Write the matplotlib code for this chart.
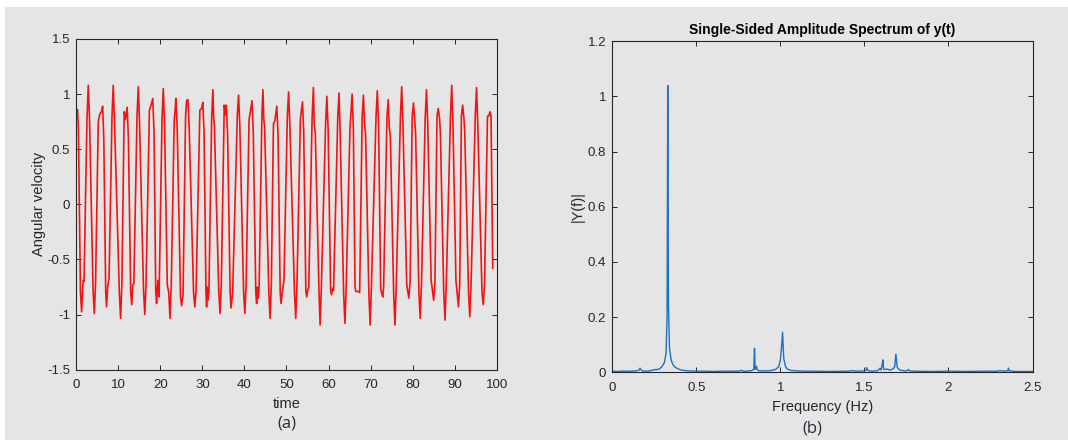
"""Angular velocity time series (a) and its single-sided amplitude spectrum (b)."""
import matplotlib

matplotlib.use("Agg")
import matplotlib.pyplot as plt  # noqa: E402
from matplotlib.patches import Rectangle  # noqa: E402

BG = "#e5e5e5"
AX_COLOR = "#262626"
RED = "#f21414"
BLUE = "#1f6fc4"

# (a) angular velocity, vertices
time_pts = [
    0.00, 0.30, 0.50, 1.00, 1.28, 1.50, 1.67, 1.85, 2.55, 2.86, 3.15,
    4.00, 4.30, 4.60, 5.24, 5.60, 6.00, 6.27, 6.55, 7.00, 7.20, 7.50, 7.80,
    8.50, 8.80, 9.10, 10.25, 10.55, 10.85, 11.40, 11.70, 12.10, 12.40,
    12.95, 13.20, 13.45, 13.70, 14.45, 14.75, 15.05, 16.00, 16.30, 16.60,
    17.40, 17.80, 18.20, 18.50, 18.90, 19.10, 19.30, 19.50, 19.70,
    20.40, 20.70, 21.00, 21.65, 22.00, 22.30, 22.60, 23.30, 23.50, 23.70, 24.00,
    24.80, 25.05, 25.40, 26.00, 26.25, 26.55, 26.85, 27.90, 28.20, 28.50,
    29.40, 29.80, 30.10, 30.40, 30.85, 31.00, 31.15, 31.30, 31.55,
    32.20, 32.50, 32.70, 32.85, 33.90, 34.20, 34.50, 35.20, 35.45, 35.70, 36.00,
    36.60, 36.80, 37.00, 37.20, 38.30, 38.60, 38.90, 39.80, 40.10, 40.40,
    41.10, 41.45, 41.80, 42.10, 42.70, 42.90, 43.10, 43.30, 43.50,
    44.15, 44.40, 44.60, 44.80, 45.80, 46.10, 46.40, 46.90, 47.25, 47.70, 48.00,
    48.50, 48.70, 49.00, 49.40, 50.20, 50.50, 50.80, 51.90, 52.20, 52.50,
    53.30, 53.80, 54.10, 54.60, 54.80, 55.05, 55.30, 56.10, 56.40, 56.60, 56.85,
    57.75, 58.00, 58.30, 59.30, 59.60, 59.90, 60.50, 60.70, 61.00, 61.20,
    62.20, 62.50, 62.75, 63.60, 63.90, 64.20, 65.10, 65.60, 65.90,
    66.30, 66.50, 67.00, 67.40, 68.00, 68.30, 68.55, 68.80, 69.60, 69.90, 70.20,
    71.30, 71.60, 71.90, 72.40, 72.60, 72.90, 73.10, 73.90, 74.20, 74.45, 74.70,
    75.50, 75.80, 76.10, 77.10, 77.40, 77.70, 78.60, 79.10, 79.40,
    79.90, 80.20, 80.50, 80.70, 81.50, 81.80, 82.10, 83.00, 83.30, 83.60,
    84.40, 85.00, 85.30, 85.80, 86.10, 86.40, 86.60, 87.40, 87.70, 88.00,
    89.00, 89.30, 89.60, 90.30, 90.90, 91.20, 91.60, 91.90, 92.20, 92.40,
    93.30, 93.60, 93.90, 94.90, 95.20, 95.50, 96.50, 96.80, 97.10,
    97.80, 98.10, 98.40, 98.65, 99.05,
]
omega_pts = [
    0.84, 0.86, 0.70, -0.80, -0.975, -0.78, -0.69, -0.70, 0.78, 1.08, 0.78,
    -0.78, -0.99, -0.70, 0.75, 0.82, 0.84, 0.89, 0.60, -0.78, -0.93, -0.74, -0.67,
    0.80, 1.08, 0.75, -0.80, -1.035, -0.72, 0.84, 0.77, 0.88, 0.60,
    -0.80, -0.91, -0.73, -0.72, 0.80, 1.067, 0.74, -0.78, -1.00, -0.72,
    0.855, 0.90, 0.96, 0.65, -0.78, -0.90, -0.75, -0.69, -0.84,
    0.78, 1.05, 0.72, -0.73, -0.80, -1.035, -0.72, 0.765, 0.85, 0.96, 0.70,
    -0.84, -0.92, -0.82, 0.80, 0.94, 0.95, 0.70, -0.80, -0.93, -0.78,
    0.855, 0.87, 0.925, 0.65, -0.80, -0.93, -0.75, -0.87, -0.80,
    0.78, 1.04, 0.77, 0.72, -0.80, -0.99, -0.72, 0.90, 0.81, 0.90, 0.62,
    -0.80, -0.94, -0.87, -0.80, 0.80, 0.99, 0.72, -0.80, -0.99, -0.72,
    0.77, 0.85, 0.94, 0.65, -0.80, -0.90, -0.75, -0.85, -0.74,
    0.80, 1.04, 0.77, 0.70, -0.80, -1.035, -0.72, 0.73, 0.76, 0.89, 0.62,
    -0.80, -0.90, -0.80, -0.69, 0.80, 1.02, 0.72, -0.80, -1.035, -0.72,
    0.77, 0.93, 0.65, -0.78, -0.84, -0.78, -0.75, 0.80, 1.06, 0.72, 0.65,
    -0.82, -1.095, -0.74, 0.73, 0.98, 0.68, -0.78, -0.82, -0.76, -0.78,
    0.80, 1.01, 0.67, -0.82, -1.08, -0.74, 0.69, 1.00, 0.70,
    -0.75, -0.79, -0.79, -0.80, 0.80, 0.99, 0.73, 0.65, -0.82, -1.095, -0.74,
    0.80, 1.03, 0.72, -0.76, -0.80, -0.84, -0.75, 0.80, 0.95, 0.69, 0.62,
    -0.82, -1.095, -0.74, 0.80, 1.067, 0.72, -0.73, -0.85, -0.70,
    0.80, 0.92, 0.76, 0.65, -0.80, -1.035, -0.72, 0.80, 1.04, 0.72,
    -0.69, -0.87, -0.72, 0.80, 0.87, 0.78, 0.65, -0.80, -1.05, -0.72,
    0.80, 1.08, 0.72, -0.69, -0.93, -0.72, 0.80, 0.90, 0.78, 0.65,
    -0.80, -1.02, -0.72, 0.80, 1.06, 0.72, -0.80, -0.91, -0.72,
    0.80, 0.80, 0.84, 0.80, -0.58,
]

# (b) single-sided amplitude spectrum
freq_pts = [
    0.00, 0.03, 0.06, 0.10, 0.14, 0.16, 0.165, 0.17, 0.18, 0.20, 0.23, 0.25,
    0.26, 0.28, 0.295, 0.31, 0.32, 0.326, 0.330, 0.334, 0.34, 0.35, 0.36,
    0.374, 0.40, 0.42, 0.45, 0.50, 0.55, 0.60, 0.65, 0.70, 0.75, 0.77, 0.78,
    0.80, 0.83, 0.842, 0.846, 0.850, 0.855, 0.858, 0.862, 0.87, 0.90, 0.94,
    0.97, 0.99, 1.00, 1.008, 1.013, 1.02, 1.03, 1.04, 1.06, 1.10, 1.15, 1.20,
    1.30, 1.40, 1.435, 1.45, 1.50, 1.51, 1.514, 1.52, 1.53, 1.55, 1.58, 1.593,
    1.60, 1.606, 1.610, 1.614, 1.625, 1.635, 1.65, 1.67, 1.68, 1.687, 1.695,
    1.71, 1.74, 1.755, 1.762, 1.77, 1.80, 1.90, 2.00, 2.10, 2.20, 2.29, 2.30,
    2.34, 2.352, 2.357, 2.362, 2.40, 2.50,
]
amp_pts = [
    0.004, 0.003, 0.004, 0.004, 0.005, 0.008, 0.015, 0.010, 0.005, 0.004,
    0.006, 0.010, 0.009, 0.012, 0.020, 0.035, 0.070, 0.200, 1.040, 0.250,
    0.090, 0.045, 0.028, 0.018, 0.010, 0.007, 0.005, 0.004, 0.004, 0.003,
    0.004, 0.004, 0.004, 0.007, 0.004, 0.004, 0.006, 0.012, 0.087, 0.010,
    0.018, 0.022, 0.010, 0.006, 0.005, 0.006, 0.010, 0.020, 0.045, 0.100,
    0.145, 0.050, 0.022, 0.012, 0.007, 0.005, 0.004, 0.004, 0.003, 0.004,
    0.006, 0.004, 0.005, 0.008, 0.017, 0.006, 0.005, 0.004, 0.006, 0.015,
    0.008, 0.030, 0.045, 0.012, 0.010, 0.012, 0.008, 0.012, 0.020, 0.066,
    0.018, 0.008, 0.005, 0.006, 0.010, 0.005, 0.004, 0.003, 0.004, 0.003,
    0.004, 0.004, 0.006, 0.004, 0.006, 0.015, 0.005, 0.003, 0.003,
]

plt.rcParams["font.family"] = ["Liberation Sans", "DejaVu Sans"]

fig = plt.figure(figsize=(10.68, 4.40), dpi=100, facecolor="white")
fig.patches.append(Rectangle((5 / 1068, 0), 1 - 5 / 1068, 1 - 7 / 440,
                             transform=fig.transFigure, facecolor=BG,
                             edgecolor="none", zorder=-10))


def style_axes(ax):
    ax.set_facecolor(BG)
    for side in ax.spines.values():
        side.set_color(AX_COLOR)
        side.set_linewidth(0.8)
    ax.tick_params(direction="in", length=3.5, width=0.7, colors=AX_COLOR,
                   top=True, right=True, labelsize=9.5)
    ax.tick_params(axis="x", pad=7)
    ax.tick_params(axis="y", pad=4.5)


ax1 = fig.add_axes([0.0714, 0.1598, 0.3937, 0.7516])
ax1.plot(time_pts, omega_pts, color=RED, linewidth=1.2)
ax1.set_xlim(0, 100)
ax1.set_ylim(-1.5, 1.5)
ax1.set_xticks(range(0, 101, 10))
ax1.set_yticks([-1.5, -1, -0.5, 0, 0.5, 1, 1.5])
ax1.set_yticklabels(["-1.5", "-1", "-0.5", "0", "0.5", "1", "1.5"])
ax1.set_xlabel("time", fontsize=10.5, color=AX_COLOR, labelpad=4)
ax1.set_ylabel("Angular velocity", fontsize=10.5, color=AX_COLOR, labelpad=1)
style_axes(ax1)

ax2 = fig.add_axes([0.5733, 0.1539, 0.3935, 0.7522])
ax2.plot(freq_pts, amp_pts, color=BLUE, linewidth=1.0)
ax2.set_xlim(0, 2.5)
ax2.set_ylim(0, 1.2)
ax2.set_xticks([0, 0.5, 1, 1.5, 2, 2.5])
ax2.set_xticklabels(["0", "0.5", "1", "1.5", "2", "2.5"])
ax2.set_yticks([0, 0.2, 0.4, 0.6, 0.8, 1, 1.2])
ax2.set_yticklabels(["0", "0.2", "0.4", "0.6", "0.8", "1", "1.2"])
ax2.set_xlabel("Frequency (Hz)", fontsize=10.5, color=AX_COLOR, labelpad=4)
ax2.set_ylabel("|Y(f)|", fontsize=10.5, color=AX_COLOR, labelpad=2)
ax2.set_title("Single-Sided Amplitude Spectrum of y(t)", fontsize=10,
              fontweight="bold", color="black", pad=5)
style_axes(ax2)

fig.text(287 / 1068, 1 - 423 / 440, "(a)", ha="center", va="center",
         fontsize=12, color="#2b2b3a", family=["Open Sans", "DejaVu Sans"])
fig.text(812 / 1068, 1 - 428 / 440, "(b)", ha="center", va="center",
         fontsize=12, color="#2b2b3a", family=["Open Sans", "DejaVu Sans"])

fig.savefig("out.png", dpi=100, facecolor=fig.get_facecolor())
